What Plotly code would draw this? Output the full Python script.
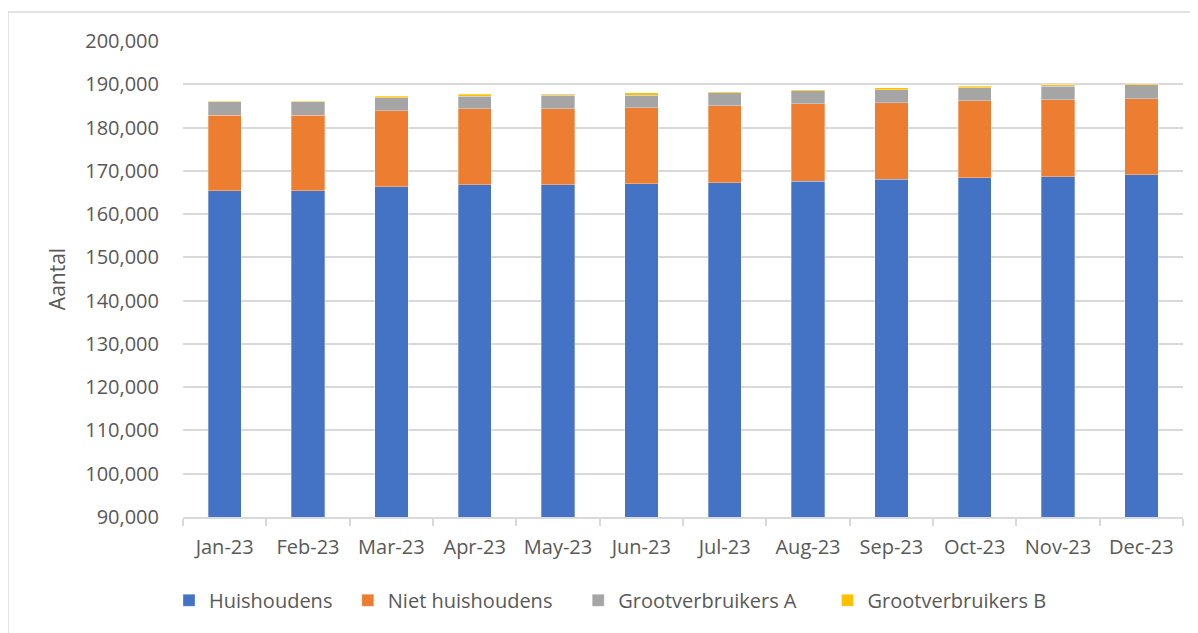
import plotly.graph_objects as go

# months and counts per category
maanden = ["Jan-23", "Feb-23", "Mar-23", "Apr-23", "May-23", "Jun-23",
           "Jul-23", "Aug-23", "Sep-23", "Oct-23", "Nov-23", "Dec-23"]

huishoudens = [165370, 165400, 166300, 166760, 166760, 166990,
               167220, 167600, 168060, 168380, 168610, 169070]
niet_huishoudens = [17480, 17450, 17540, 17550, 17550, 17550,
                    17780, 17860, 17630, 17780, 17860, 17630]
grootverbruikers_a = [3150, 3150, 2990, 2980, 3210, 2980,
                      2990, 2990, 3080, 3070, 3070, 3140]
grootverbruikers_b = [130, 130, 460, 460, 230, 470,
                      230, 230, 370, 310, 300, 320]

y_ticks = list(range(90000, 200001, 10000))

# (name, values, colour, trailing spaces to get the legend spacing right)
series = [
    ("Huishoudens", huishoudens, "#4472C4", 2),
    ("Niet huishoudens", niet_huishoudens, "#ED7D31", 4),
    ("Grootverbruikers A", grootverbruikers_a, "#A5A5A5", 5),
    ("Grootverbruikers B", grootverbruikers_b, "#FFC000", 0),
]

fig = go.Figure()
for naam, waarden, kleur, pad in series:
    fig.add_trace(go.Bar(
        x=maanden, y=waarden, name=naam + "\u00a0" * pad,
        marker=dict(color=kleur, line=dict(color="rgba(255,255,255,0.5)", width=0.6)),
    ))

font = "Open Sans, Noto Sans, sans-serif"

# the page body adds 8px, so the figure is 8px smaller and margins shifted
fig.update_layout(
    barmode="stack",
    bargap=0.6,
    width=1190, height=625,
    margin=dict(l=175, r=15, t=33, b=116, autoexpand=False),
    paper_bgcolor="white",
    plot_bgcolor="white",
    font=dict(family=font, size=20, color="#595959"),
    legend=dict(
        orientation="h", x=-0.014, xanchor="left", y=-0.134, yanchor="top",
        font=dict(size=20, color="#595959"), itemwidth=30, traceorder="normal",
    ),
    showlegend=True,
)

fig.update_yaxes(
    range=[90000, 200000],
    tickvals=y_ticks,
    tickformat=",",
    showgrid=True, gridcolor="#d9d9d9", gridwidth=1.5,
    zeroline=False, showline=False,
    ticklabelstandoff=23,
    automargin=False,
    title=dict(text="Aantal", font=dict(size=21, color="#595959"), standoff=13),
)

fig.update_xaxes(
    showline=True, linecolor="#d9d9d9", linewidth=1.5,
    ticks="outside", tickson="boundaries", ticklen=7, tickcolor="#d9d9d9", tickwidth=1.5,
    ticklabelstandoff=11,
    automargin=False,
)

# light frame around the chart (runs off the right and bottom edge)
fig.add_shape(type="rect", xref="paper", yref="paper",
              x0=-0.175, x1=1.03, y0=-0.3, y1=1.061,
              line=dict(color="#d9d9d9", width=1.5), fillcolor="rgba(0,0,0,0)", layer="below")

fig.write_html("out.html")
